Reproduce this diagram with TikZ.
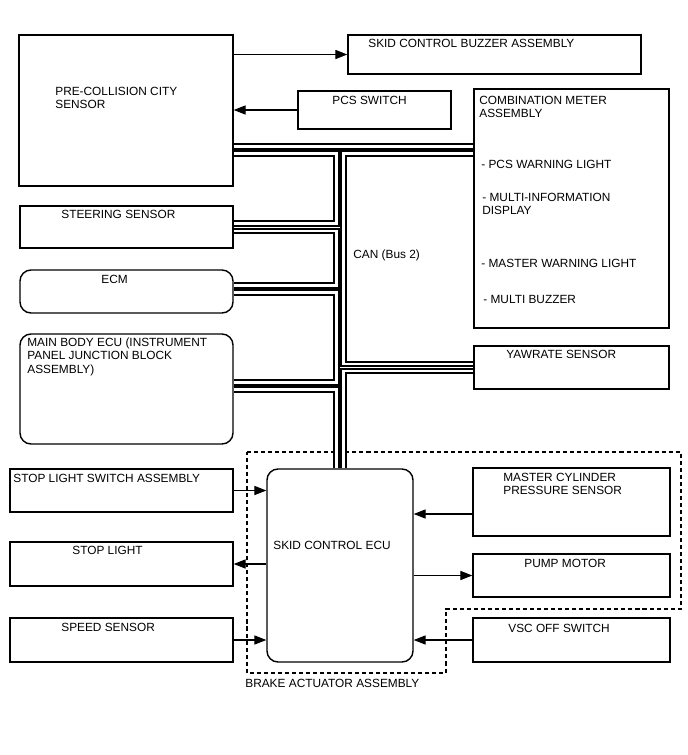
\documentclass[tikz,border=0pt]{standalone}
\usepackage{fontspec}
\setmainfont{Liberation Sans}
\usetikzlibrary{arrows.meta,fit}

\begin{document}
\begin{tikzpicture}[x=0.02cm, y=-0.02cm,
    box/.style={draw, line width=0.8pt, inner sep=0pt},
    rbox/.style={box, rounded corners=0.22cm},
    txt/.style={font=\fontsize{6.75}{7.7}\selectfont, inner sep=0pt, align=left, anchor=base west},
    arr/.style={line width=0.6pt, -{Triangle[length=6.8pt,width=5.2pt]}},
    can/.style={line width=1.2pt, double=white, double distance=1.4pt}]
    \useasboundingbox (0,0) rectangle (688,755);
    % units are pixels of the 688x755 sheet, y grows downwards
    % left column
    \node[box, fit={(19,35) (233,186)}]   (sensor) {};
    \node[box, fit={(20,206) (233,248)}]  (steer) {};
    \node[rbox, fit={(20,270) (233,313)}] (ecm) {};
    \node[rbox, fit={(20,334) (233,444)}] (body) {};
    \node[box, fit={(10,469) (233,512)}]  (stopsw) {};
    \node[box, fit={(10,542) (233,586)}]  (stoplt) {};
    \node[box, fit={(10,618) (233,662)}]  (speed) {};
    % right column
    \node[box, fit={(348,35) (641,74)}]   (buzzer) {};
    \node[box, fit={(298,91) (451,129)}]  (pcssw) {};
    \node[box, fit={(474,89) (669,328)}]  (meter) {};
    \node[box, fit={(474,346) (669,389)}] (yaw) {};
    \node[box, fit={(473,468) (670,536)}] (mcyl) {};
    \node[box, fit={(473,554) (670,597)}] (pump) {};
    \node[box, fit={(473,618) (670,662)}] (vsc) {};
    % brake actuator
    \node[rbox, fit={(267,469) (413,662)}] (skid) {};
    \draw[line width=0.7pt, dash pattern=on 2.3pt off 1.7pt]
      (247,452) -- (681,452) -- (681,609) -- (446,609) -- (446,673) -- (247,673) -- cycle;

    % labels
    \node[txt, anchor=north west] (sensor-t) at (55,86.5) {PRE-COLLISION CITY\\SENSOR};
    \node[txt] (steer-t)  at (61,218)  {STEERING SENSOR};
    \node[txt] (ecm-t)    at (101,283) {ECM};
    \node[txt, anchor=north west] (body-t) at (27,337.5) {MAIN BODY ECU (INSTRUMENT\\PANEL JUNCTION BLOCK\\ASSEMBLY)};
    \node[txt] (stopsw-t) at (13,482)  {STOP LIGHT SWITCH ASSEMBLY};
    \node[txt] (stoplt-t) at (72,554)  {STOP LIGHT};
    \node[txt] (speed-t)  at (61,631)  {SPEED SENSOR};
    \node[txt] (buzzer-t) at (368,47)  {SKID CONTROL BUZZER ASSEMBLY};
    \node[txt] (pcssw-t)  at (332,104) {PCS SWITCH};
    \node[txt, anchor=north west] (meter-t) at (479,95.5) {COMBINATION METER\\ASSEMBLY};
    \node[txt] (meter-a)  at (481,168) {- PCS WARNING LIGHT};
    \node[txt, anchor=north west] (meter-b) at (482,192.5) {- MULTI-INFORMATION\\DISPLAY};
    \node[txt] (meter-c)  at (481,267) {- MASTER WARNING LIGHT};
    \node[txt] (meter-d)  at (483,303) {- MULTI BUZZER};
    \node[txt] (yaw-t)    at (506,358) {YAWRATE SENSOR};
    \node[txt, anchor=north west] (mcyl-t) at (503,472.5) {MASTER CYLINDER\\PRESSURE SENSOR};
    \node[txt] (pump-t)   at (524,567) {PUMP MOTOR};
    \node[txt] (vsc-t)    at (508,632) {VSC OFF SWITCH};
    \node[txt] (skid-t)   at (273,549) {SKID CONTROL ECU};
    \node[txt] (can-t)    at (353,258) {CAN (Bus 2)};
    \node[txt] (brake-t)  at (245,687) {BRAKE ACTUATOR ASSEMBLY};

    % CAN (Bus 2)
    \draw[can] (sensor.east |- 0,146.5) -- (meter.west |- 0,146.5);
    \draw[can] (sensor.east |- 0,153.5) -| (336.5,223.5) -- (steer.east |- 0,223.5);
    \draw[can] (steer.east |- 0,231) -| (336.5,285.5) -- (ecm.east |- 0,285.5);
    \draw[can] (ecm.east |- 0,292.5) -| (336.5,382.5) -- (body.east |- 0,382.5);
    \draw[can] (body.east |- 0,389.5) -| (skid.north -| 336.5,0);
    \draw[can] (meter.west |- 0,153.5) -| (343.5,364) -- (yaw.west |- 0,364);
    \draw[can] (yaw.west |- 0,371) -| (skid.north -| 343.5,0);

    % signal lines
    \coordinate (mcin) at ([yshift=-0.24cm]mcyl.west);
    \draw[arr] (sensor.east |- buzzer.west) -- (buzzer.west);
    \draw[arr] (pcssw.west) -- (sensor.east |- pcssw.west);
    \draw[arr] (stopsw.east) -- (skid.west |- stopsw.east);
    \draw[arr] (skid.west |- stoplt.east) -- (stoplt.east);
    \draw[arr] (speed.east) -- (skid.west |- speed.east);
    \draw[arr] (mcin) -- (skid.east |- mcin);
    \draw[arr] (skid.east |- pump.west) -- (pump.west);
    \draw[arr] (vsc.west) -- (skid.east |- vsc.west);
  \end{tikzpicture}
\end{document}
